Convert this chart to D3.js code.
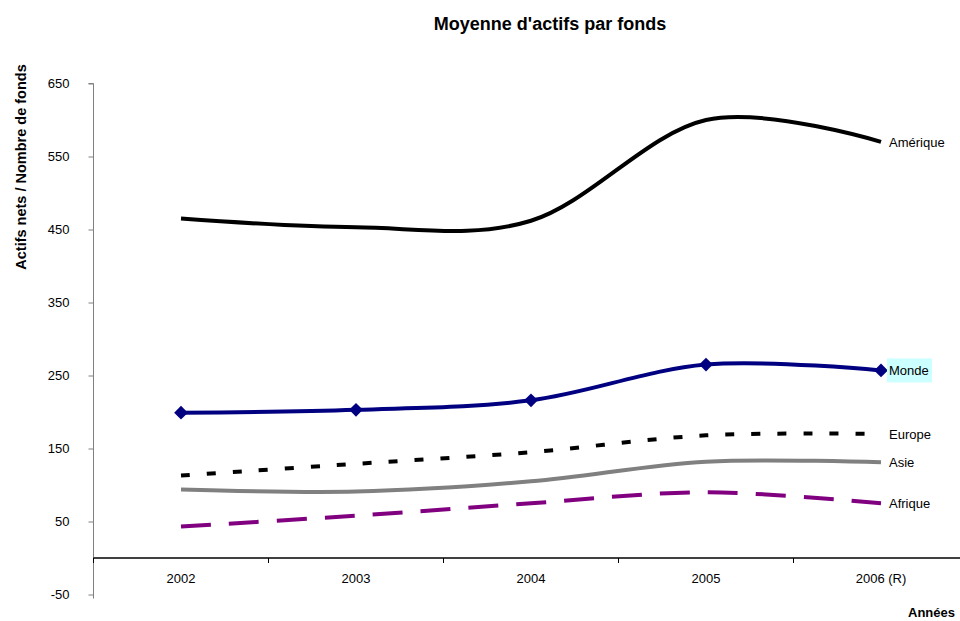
<!DOCTYPE html>
<html>
<head>
<meta charset="utf-8">
<script src="https://cdn.jsdelivr.net/npm/d3@7"></script>
<style>
  body { margin: 0; background: #fff; }
  text { font-family: "Liberation Sans", Arial, sans-serif; }
</style>
</head>
<body>
<svg id="main" width="960" height="621"></svg>
<script>
// data
const annees = ["2002", "2003", "2004", "2005", "2006 (R)"];
const amerique = [465, 453, 462, 600, 570];
const monde = [199, 203, 216, 265, 257];
const europe = [113, 129, 145, 168, 170];
const asie = [94, 91, 105, 132, 131];
const afrique = [43, 58, 75, 90, 75];
const yTicks = [-50, 50, 150, 250, 350, 450, 550, 650];

const series = [
  {name: "Amérique", values: amerique, color: "#000000", dash: null},
  {name: "Monde", values: monde, color: "#000080", dash: null, marker: true},
  {name: "Europe", values: europe, color: "#000000", dash: "9,17"},
  {name: "Asie", values: asie, color: "#808080", dash: null},
  {name: "Afrique", values: afrique, color: "#800080", dash: "30,18"}
];

function draw() {
  const svg = d3.select("#main");

  const x = d3.scaleBand().domain(annees).range([93.5, 968.5]);
  const y = d3.scaleLinear().domain([-50, 650]).range([594.5, 83.5]);

  // title
  svg.append("text")
    .attr("x", 550).attr("y", 30)
    .attr("text-anchor", "middle")
    .attr("font-size", 18).attr("font-weight", "bold")
    .text("Moyenne d'actifs par fonds");

  // y axis
  const yAxis = svg.append("g")
    .attr("transform", "translate(93.5,0)")
    .call(d3.axisLeft(y).tickValues(yTicks).tickSize(5).tickPadding(19).tickFormat(d => String(d)));
  yAxis.select(".domain").attr("stroke", "#808080").attr("d", "M-5," + y(650) + "H0V" + (y(-50) + 4));
  yAxis.selectAll(".tick line").attr("stroke", "#808080");
  yAxis.selectAll(".tick text").attr("font-size", 13).attr("font-family", "Liberation Sans, Arial, sans-serif");

  svg.append("text")
    .attr("transform", "translate(26,167) rotate(-90)")
    .attr("text-anchor", "middle")
    .attr("font-size", 14.5).attr("font-weight", "bold")
    .text("Actifs nets / Nombre de fonds");

  // x axis at y=0
  const xAxis = svg.append("g")
    .attr("transform", "translate(0," + y(0) + ")")
    .call(d3.axisBottom(x).tickSize(0).tickPadding(16));
  xAxis.select(".domain").attr("stroke", "#000").attr("stroke-width", 1.5).attr("d", "M93.5,0H960");
  xAxis.selectAll(".tick text").attr("font-size", 13).attr("font-family", "Liberation Sans, Arial, sans-serif");
  // category separators
  xAxis.selectAll(".sep")
    .data(annees)
    .enter().append("line")
    .attr("x1", d => x(d)).attr("x2", d => x(d))
    .attr("y1", 0).attr("y2", 5)
    .attr("stroke", "#000");

  svg.append("text")
    .attr("x", 955).attr("y", 621 - 4)
    .attr("text-anchor", "end")
    .attr("font-size", 13).attr("font-weight", "bold")
    .text("Années");

  const cx = d => x(d) + x.bandwidth() / 2;
  const line = d3.line()
    .x((d, i) => cx(annees[i]))
    .y(d => y(d))
    .curve(d3.curveCatmullRom.alpha(0));

  series.forEach(s => {
    svg.append("path")
      .attr("d", line(s.values))
      .attr("fill", "none")
      .attr("stroke", s.color)
      .attr("stroke-width", 4)
      .attr("stroke-dasharray", s.dash);
    if (s.marker) {
      svg.selectAll(".m" + s.name)
        .data(s.values)
        .enter().append("path")
        .attr("d", d3.symbol().type(d3.symbolDiamond2).size(120))
        .attr("transform", (d, i) => "translate(" + cx(annees[i]) + "," + y(d) + ")")
        .attr("fill", s.color);
    }
    const last = s.values[s.values.length - 1];
    const lx = 889, ly = y(last) + 5;
    if (s.name === "Monde") {
      svg.append("rect")
        .attr("x", lx - 2).attr("y", y(last) - 12)
        .attr("width", 45).attr("height", 24)
        .attr("fill", "#ccffff");
    }
    svg.append("text")
      .attr("x", lx).attr("y", ly)
      .attr("font-size", 13)
      .text(s.name);
  });
}

draw();
</script>
</body>
</html>
